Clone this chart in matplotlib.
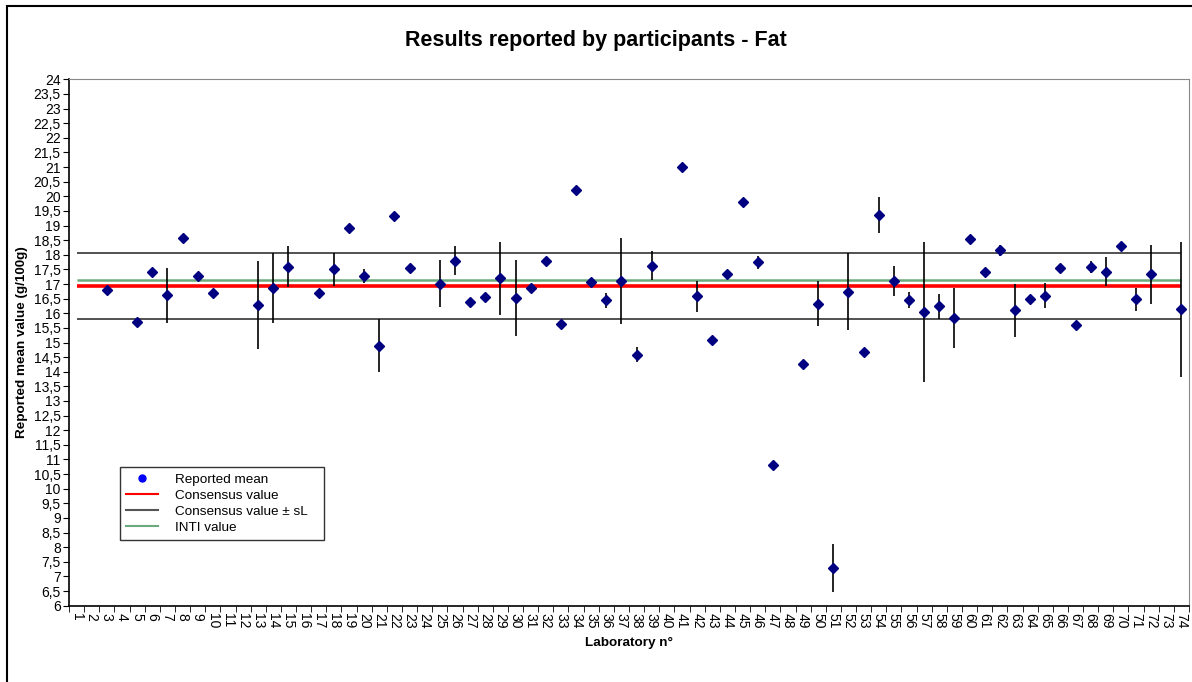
import numpy as np
import matplotlib
matplotlib.use("Agg")
import matplotlib.pyplot as plt
from matplotlib.lines import Line2D
from matplotlib.patches import Rectangle
from matplotlib.ticker import FuncFormatter, MultipleLocator

plt.rcParams['font.family'] = ['Liberation Sans', 'DejaVu Sans']

# lab numbers with a reported result, their means and the half-length of the bars (0 = no bar)
labs = [3, 5, 6, 7, 8, 9, 10, 13, 14, 15, 17, 18, 19, 20, 21, 22, 23, 25, 26, 27,
        28, 29, 30, 31, 32, 33, 34, 35, 36, 37, 38, 39, 41, 42, 43, 44, 45, 46, 47, 49,
        50, 51, 52, 53, 54, 55, 56, 57, 58, 59, 60, 61, 62, 63, 64, 65, 66, 67, 68, 69,
        70, 71, 72, 74]
means = [16.79, 15.69, 17.42, 16.61, 18.56, 17.28, 16.68, 16.28, 16.87, 17.59, 16.69, 17.50, 18.93, 17.28, 14.89, 19.33, 17.56, 17.01, 17.80, 16.37,
         16.54, 17.19, 16.53, 16.86, 17.79, 15.63, 20.21, 17.06, 16.44, 17.10, 14.58, 17.63, 21.00, 16.58, 15.09, 17.33, 19.79, 17.74, 10.81, 14.25,
         16.33, 7.29, 16.74, 14.66, 19.37, 17.11, 16.44, 16.05, 16.24, 15.84, 18.53, 17.40, 18.15, 16.10, 16.49, 16.60, 17.54, 15.59, 17.59, 17.42,
         18.29, 16.48, 17.33, 16.13]
errs = [0, 0, 0, 0.95, 0, 0, 0, 1.5, 1.2, 0.7, 0, 0.57, 0, 0.25, 0.9, 0, 0, 0.81, 0.5, 0,
        0, 1.25, 1.3, 0, 0, 0, 0, 0, 0.25, 1.47, 0.26, 0.5, 0, 0.53, 0, 0, 0, 0.23, 0, 0,
        0.78, 0.81, 1.31, 0, 0.61, 0.51, 0.27, 2.4, 0.42, 1.03, 0, 0, 0.2, 0.9, 0, 0.42, 0, 0, 0.21, 0.5,
        0, 0.4, 1.0, 2.3]

consensus = 16.93
s_l = 1.14
inti = 17.14
n_labs = 74

fig = plt.figure(figsize=(11.92, 6.82), dpi=100)
ax = fig.add_axes([0.0579, 0.1119, 0.9396, 0.7718])

# reference lines, drawn across the labs
ax.hlines([consensus + s_l, consensus - s_l], 1, n_labs, color='#333333', lw=1.2, zorder=2)
ax.hlines(inti, 1, n_labs, color='#6aaa7c', lw=1.8, zorder=2)
ax.hlines(consensus, 1, n_labs, color='#ff0000', lw=2.6, zorder=3)

# error bars only where they exist
e = np.array(errs)
m = np.array(means)
x = np.array(labs)
has = e > 0
ax.errorbar(x[has], m[has], yerr=e[has], fmt='none', ecolor='black', elinewidth=1.2, capsize=0, zorder=4)
ax.plot(x, m, 'D', color='#000080', ms=5.5, zorder=5)

ax.set_xlim(0.5, n_labs + 0.5)
ax.set_ylim(6, 24)
ax.yaxis.set_major_locator(MultipleLocator(0.5))
ax.yaxis.set_major_formatter(FuncFormatter(lambda v, p: ('%g' % v).replace('.', ',')))
ax.set_xticks(range(1, n_labs + 1))
ax.set_xticklabels([str(i) for i in range(1, n_labs + 1)], rotation=-90)
ax.set_xticks(np.arange(0.5, n_labs + 1), minor=True)
ax.tick_params(axis='x', which='major', length=0, labelsize=10, pad=5)
ax.tick_params(axis='x', which='minor', length=4, direction='out')
ax.tick_params(axis='y', length=4, direction='out', labelsize=10, pad=2)

for s in ['top', 'right']:
    ax.spines[s].set_color('#888888')
for s in ['left', 'bottom']:
    ax.spines[s].set_color('black')
    ax.spines[s].set_linewidth(1.2)

ax.set_ylabel('Reported mean value (g/100g)', fontsize=9.7, fontweight='bold', labelpad=4)
ax.set_xlabel('Laboratory n°', fontsize=9.7, fontweight='bold', labelpad=6)
fig.text(0.5, 0.941, 'Results reported by participants - Fat', ha='center', va='center',
         fontsize=15.5, fontweight='bold')

handles = [Line2D([], [], marker='o', ls='none', color='#0000ff', ms=5),
           Line2D([], [], color='#ff0000', lw=1.5),
           Line2D([], [], color='#555555', lw=1.5),
           Line2D([], [], color='#6aaa7c', lw=1.5)]
labels = ['Reported mean', 'Consensus value', 'Consensus value ± sL   ', 'INTI value']
leg = ax.legend(handles, labels, loc='lower left', bbox_to_anchor=(120 / 1192, 1 - 540 / 682),
                bbox_transform=fig.transFigure, fontsize=9.7, frameon=True, fancybox=False,
                edgecolor='black', handlelength=2.4, handletextpad=1.2, borderpad=0.45,
                borderaxespad=0, labelspacing=0.27)
leg.get_frame().set_linewidth(1.0)

# outer chart border (only left and top are inside the image)
fig.patches.append(Rectangle((7 / 1192, -0.05), 1.2, 1.05 - 6 / 682, transform=fig.transFigure,
                             fill=False, edgecolor='black', lw=1.5))

fig.savefig('out.png', dpi=100)
